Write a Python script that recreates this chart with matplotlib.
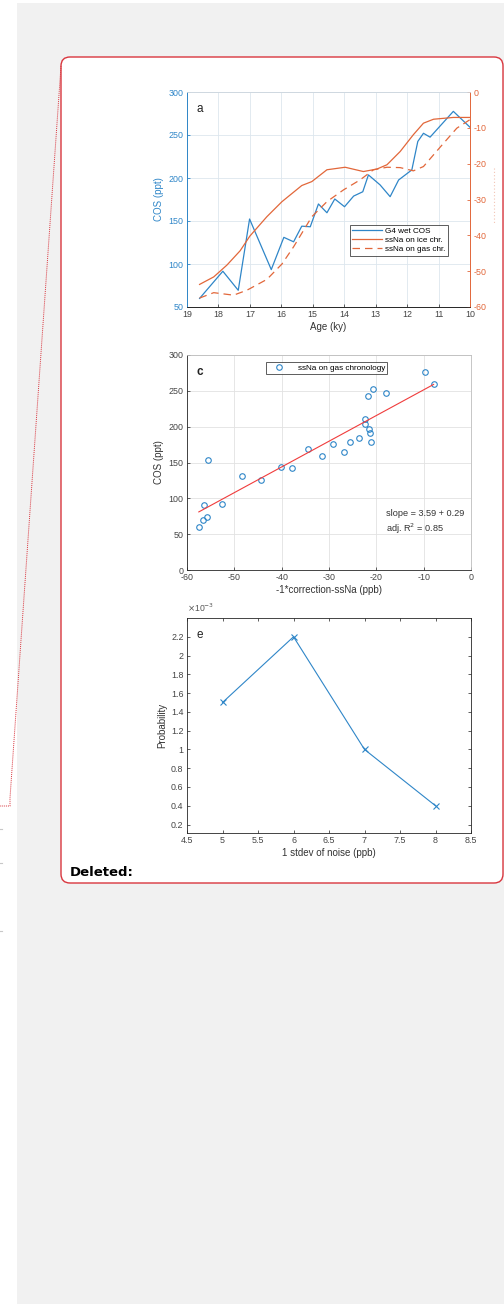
import numpy as np
import matplotlib
matplotlib.use("Agg")
import matplotlib.pyplot as plt
from matplotlib.patches import Rectangle, FancyBboxPatch
from matplotlib.lines import Line2D
from matplotlib.transforms import IdentityTransform

W, H = 504, 1304
DPI = 100

plt.rcParams["font.family"] = ["Liberation Sans", "DejaVu Sans"]
plt.rcParams["axes.unicode_minus"] = False

# panel a: COS record and ssNa corrections vs age
COS_AGE = [18.6, 17.86, 17.37, 17.01, 16.32, 15.92, 15.61, 15.35, 15.08, 14.82,
           14.55, 14.30, 13.99, 13.70, 13.41, 13.23, 12.86, 12.54, 12.27, 11.85,
           11.66, 11.48, 11.27, 10.53, 10.0]
COS_VAL = [60, 91.6, 69.4, 152.3, 93.5, 131, 125.8, 144, 143.3, 169.8,
           159.6, 175.6, 166.6, 179, 184, 203.6, 192, 178.3, 197.7, 209.4,
           242.5, 252, 247.5, 277.5, 259]

ICE_AGE = [18.6, 18.15, 17.73, 17.31, 17.0, 16.46, 15.98, 15.35, 15.03, 14.55,
           13.97, 13.39, 12.96, 12.64, 12.22, 11.8, 11.48, 11.16, 10.53, 10.0]
ICE_VAL = [-53.7, -51.6, -48.3, -44.3, -40.2, -34.8, -30.6, -26.1, -25.0, -21.7,
           -21.0, -22.2, -21.5, -20.3, -16.6, -11.9, -8.7, -7.6, -7.1, -7.1]

GAS_AGE = [18.6, 18.15, 17.52, 17.09, 16.46, 15.98, 15.61, 15.03, 14.55, 14.02,
           13.49, 13.07, 12.64, 12.22, 11.8, 11.48, 10.95, 10.42, 10.0]
GAS_VAL = [-57.5, -56.0, -56.7, -55.3, -52.3, -48.0, -43.2, -34.8, -30.6, -27.3,
           -24.5, -21.7, -21.0, -21.1, -22.0, -20.8, -15.4, -10.1, -7.7]

# panel c: COS vs gas-chronology ssNa correction
SCAT_X = [-57.5, -56.7, -55.8, -56.4, -55.6, -52.6, -48.4, -44.3, -40.1, -37.8,
          -34.5, -31.5, -29.2, -26.9, -25.5, -23.6, -22.5, -22.3, -21.5, -21.3,
          -21.1, -21.8, -20.6, -18.0, -9.65, -7.9]
SCAT_Y = [59.5, 69.2, 74.3, 91, 152.8, 92.4, 131.4, 125, 144, 142.6,
          169.5, 159.3, 175.6, 165.3, 178.4, 184.4, 203.4, 210.9, 197.4, 190.9,
          178.4, 242.9, 252.7, 246.6, 276.8, 259.2]
SLOPE_TXT = "slope = 3.59 + 0.29"
R2_TXT = "adj. R$^2$ = 0.85"

# panel e: probability vs noise level
NOISE = [5, 6, 7, 8]
PROB = [1.5e-3, 2.2e-3, 1.0e-3, 0.4e-3]

BLUE = "#2f86c8"
ORANGE = "#e2673a"
TICK_GRAY = "#444444"
TICK_FS = 6.4
LABEL_FS = 7.0


def px_axes(fig, l, t, r, b):
    return fig.add_axes([l / W, 1 - b / H, (r - l) / W, (b - t) / H])


def style_ax(ax, fs=TICK_FS):
    ax.tick_params(direction="in", length=2.5, width=0.6, labelsize=fs,
                   colors=TICK_GRAY, pad=2.5)
    for s in ax.spines.values():
        s.set_linewidth(0.6)
        s.set_color("#262626")


fig = plt.figure(figsize=(W / DPI, H / DPI), dpi=DPI, facecolor="white")

# page background
fig.add_artist(Rectangle((17, 0), W - 17, H - 3, transform=IdentityTransform(),
                         facecolor="#f1f1f1", edgecolor="none", zorder=-10))
# comment balloon
fig.add_artist(FancyBboxPatch((61, H - 883), 442, 826,
                              boxstyle="round,pad=0,rounding_size=9",
                              transform=IdentityTransform(), facecolor="white",
                              edgecolor="#d9363e", linewidth=1.0, zorder=-5))
# dotted connector to margin
fig.add_artist(Line2D([61, 10, 10, 0], [H - 66, H - 798, H - 806, H - 806],
                      transform=IdentityTransform(), color="#d9363e",
                      linestyle=(0, (1, 1)), linewidth=0.7))
fig.add_artist(Line2D([494, 494], [H - 168, H - 224],
                      transform=IdentityTransform(), color="#f2c4b4",
                      linestyle=(0, (1, 2)), linewidth=0.8))
for yy in (829, 863, 931):
    fig.add_artist(Line2D([0, 2], [H - yy, H - yy], transform=IdentityTransform(),
                          color="#c8c8c8", linewidth=0.8))

fig.text(70 / W, 1 - 873 / H, "Deleted:", fontsize=9.5, fontweight="bold",
         family=["DejaVu Sans"], va="center", ha="left")

# ---- panel a ----
ax = px_axes(fig, 187, 92, 470, 307)
style_ax(ax)
ax.plot(COS_AGE, COS_VAL, color=BLUE, lw=0.9, label="G4 wet COS")
ax.set_xlim(19, 10)
ax.set_ylim(50, 300)
ax.set_xticks(np.arange(10, 20, 1))
ax.set_yticks(np.arange(50, 301, 50))
ax.grid(True, color="#dde6ee", lw=0.6)
ax.tick_params(axis="y", colors=BLUE)
ax.spines["left"].set_color(BLUE)
ax.spines["right"].set_color(ORANGE)
ax.spines["top"].set_color("#cfd8e0")
ax.set_ylabel("COS (ppt)", fontsize=LABEL_FS, color=BLUE, labelpad=3)
ax.set_xlabel("Age (ky)", fontsize=LABEL_FS, color="#333333", labelpad=2)
ax.text(0.033, 0.92, "a", transform=ax.transAxes, fontsize=8.5, color="#222222",
        va="center", ha="left")
ax2 = ax.twinx()
style_ax(ax2)
ax2.plot(ICE_AGE, ICE_VAL, color=ORANGE, lw=0.9, label="ssNa on ice chr.")
ax2.plot(GAS_AGE, GAS_VAL, color=ORANGE, lw=0.9, dashes=(6, 4),
         label="ssNa on gas chr.")
ax2.set_ylim(-60, 0)
ax2.set_yticks(np.arange(-60, 1, 10))
ax2.tick_params(axis="y", colors=ORANGE)
ax2.spines["right"].set_color(ORANGE)
ax2.spines["left"].set_color(BLUE)
ax2.spines["top"].set_color("#cfd8e0")
h1, l1 = ax.get_legend_handles_labels()
h2, l2 = ax2.get_legend_handles_labels()
leg = ax2.legend(h1 + h2, l1 + l2, fontsize=5.9, loc="upper left",
                 bbox_to_anchor=((350 - 187) / 283, 1 - (225 - 92) / 215),
                 frameon=True, fancybox=False, handlelength=3.6,
                 borderpad=0.3, labelspacing=0.15, handletextpad=0.4,
                 borderaxespad=0)
leg.get_frame().set_edgecolor("#333333")
leg.get_frame().set_linewidth(0.7)

# ---- panel c ----
ax = px_axes(fig, 187, 355, 471, 570)
style_ax(ax)
ax.plot(SCAT_X, SCAT_Y, linestyle="none", marker="o", mfc="none", mec=BLUE,
        ms=4.0, mew=0.8, label="ssNa on gas chronology")
coef = np.polyfit(SCAT_X, SCAT_Y, 1)
fx = np.array([min(SCAT_X), max(SCAT_X)])
ax.plot(fx, np.polyval(coef, fx), color="#f03c3c", lw=0.8)
ax.set_xlim(-60, 0)
ax.set_ylim(0, 300)
ax.set_xticks(np.arange(-60, 1, 10))
ax.set_yticks(np.arange(0, 301, 50))
ax.grid(True, color="#e2e2e2", lw=0.6)
for s in ("top", "right"):
    ax.spines[s].set_color("#bdbdbd")
ax.set_ylabel("COS (ppt)", fontsize=LABEL_FS, color="#333333", labelpad=3)
ax.set_xlabel("-1*correction-ssNa (ppb)", fontsize=LABEL_FS, color="#333333",
              labelpad=2)
ax.text(0.033, 0.92, "c", transform=ax.transAxes, fontsize=8.5, color="#222222",
        fontweight="bold", va="center", ha="left")
ax.text(0.70, 0.265, SLOPE_TXT, transform=ax.transAxes, fontsize=6.6,
        color="#333333", va="center", ha="left")
ax.text(0.70, 0.19, R2_TXT, transform=ax.transAxes, fontsize=6.6,
        color="#333333", va="center", ha="left")
leg = ax.legend(fontsize=5.9, loc="upper left",
                bbox_to_anchor=((266 - 187) / 284, 1 - (362 - 355) / 215),
                frameon=True, fancybox=False, handlelength=2.6,
                borderpad=0.25, handletextpad=1.0, borderaxespad=0)
leg.get_frame().set_edgecolor("#333333")
leg.get_frame().set_linewidth(0.7)

# ---- panel e ----
ax = px_axes(fig, 187, 618, 471, 833)
style_ax(ax)
ax.plot(NOISE, PROB, color=BLUE, lw=0.8, marker="x", ms=4.2, mew=0.8)
ax.set_xlim(4.5, 8.5)
ax.set_ylim(0.11e-3, 2.4e-3)
ax.set_xticks(np.arange(4.5, 8.51, 0.5))
ax.set_xticklabels(["4.5", "5", "5.5", "6", "6.5", "7", "7.5", "8", "8.5"])
yt = np.arange(0.2, 2.21, 0.2)
ax.set_yticks(yt * 1e-3)
ax.set_yticklabels(["%g" % round(v, 1) for v in yt])
ax.tick_params(top=True, right=True)
ax.text(0.0, 1.02, "$\\times$10$^{-3}$", transform=ax.transAxes, fontsize=6.2,
        color="#555555", va="bottom", ha="left")
ax.set_ylabel("Probability", fontsize=LABEL_FS, color="#333333", labelpad=3)
ax.set_xlabel("1 stdev of noise (ppb)", fontsize=LABEL_FS, color="#333333",
              labelpad=2)
ax.text(0.033, 0.92, "e", transform=ax.transAxes, fontsize=8.5, color="#222222",
        va="center", ha="left")

fig.savefig("out.png", dpi=DPI)
